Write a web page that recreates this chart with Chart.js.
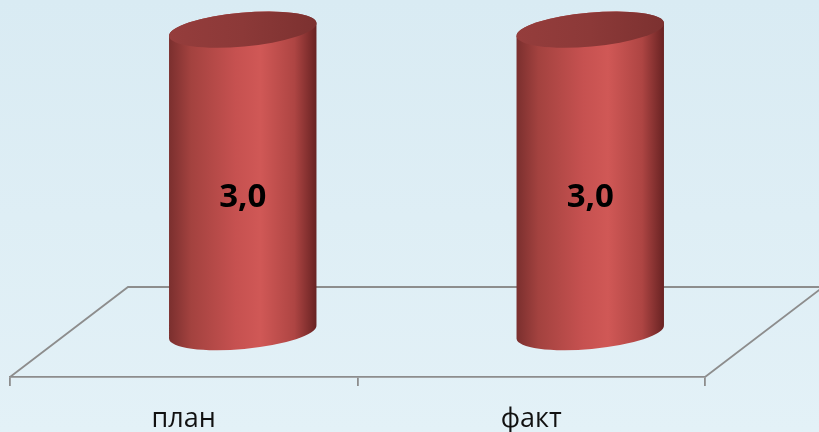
<!DOCTYPE html>
<html>
<head>
<meta charset="utf-8">
<script src="https://cdn.jsdelivr.net/npm/chart.js@4/dist/chart.umd.min.js"></script>
<style>
  html, body { margin: 0; padding: 0; }
  body { width: 819px; height: 432px; overflow: hidden;
         background: linear-gradient(to bottom, #d9ebf3 0%, #e3f1f7 100%); }
  #wrap { position: relative; width: 819px; height: 432px; }
</style>
</head>
<body>
<div id="wrap"><canvas id="myChart"></canvas></div>
<script>
// chart data
const categories = ['план', 'факт'];
const values = [3.0, 3.0];
const yMin = 0;
const yMax = 3.7;

// 3d look: floor depth and cylinder drawing
const depthX = 118;
const depthY = -90;
const lineColor = '#8d8d8d';

const cylinders = {
    id: 'cylinders',
    beforeDatasetsDraw(chart) {
        const ctx = chart.ctx;
        const area = chart.chartArea;
        ctx.save();
        ctx.strokeStyle = lineColor;
        ctx.lineWidth = 1.8;
        ctx.beginPath();
        ctx.moveTo(area.left, area.bottom);
        ctx.lineTo(area.left + depthX, area.bottom + depthY);
        ctx.lineTo(area.right + depthX, area.bottom + depthY);
        ctx.lineTo(area.right, area.bottom);
        ctx.stroke();
        ctx.restore();
    },
    afterDatasetsDraw(chart) {
        const ctx = chart.ctx;
        const meta = chart.getDatasetMeta(0);
        const yScale = chart.scales.y;
        meta.data.forEach((bar, i) => {
            const p = bar.getProps(['x', 'y', 'base', 'width'], true);
            const cx = p.x + depthX / 2;
            const topY = p.y + depthY / 2;
            const botY = p.base + depthY / 2;
            const rx = p.width / 2;
            const ry = 17;
            const rot = -0.09;

            ctx.save();
            const g = ctx.createLinearGradient(cx - rx, 0, cx + rx, 0);
            g.addColorStop(0, '#7a2f2e');
            g.addColorStop(0.15, '#a3423f');
            g.addColorStop(0.45, '#c65150');
            g.addColorStop(0.62, '#d05856');
            g.addColorStop(0.85, '#ae4543');
            g.addColorStop(1, '#672222');
            ctx.fillStyle = g;
            ctx.beginPath();
            ctx.ellipse(cx, botY, rx, ry, rot, 0, Math.PI);
            ctx.lineTo(cx - rx * Math.cos(rot), topY - rx * Math.sin(rot));
            ctx.ellipse(cx, topY, rx, ry, rot, Math.PI, Math.PI * 2);
            ctx.closePath();
            ctx.fill();

            // top cap
            const cg = ctx.createLinearGradient(cx - rx, 0, cx + rx, 0);
            cg.addColorStop(0, '#953d3c');
            cg.addColorStop(0.5, '#8c3938');
            cg.addColorStop(1, '#7c3130');
            ctx.fillStyle = cg;
            ctx.beginPath();
            ctx.ellipse(cx, topY, rx, ry, rot, 0, Math.PI * 2);
            ctx.fill();

            // value label
            ctx.fillStyle = '#000';
            ctx.font = 'bold 33px "Open Sans"';
            ctx.textAlign = 'center';
            ctx.textBaseline = 'middle';
            const ly = yScale.getPixelForValue(values[i] / 2) + depthY / 2 + 17;
            ctx.fillText(values[i].toFixed(1).replace('.', ','), cx, ly);
            ctx.restore();
        });
    }
};

new Chart(document.getElementById('myChart'), {
    type: 'bar',
    data: {
        labels: categories,
        datasets: [{
            data: values,
            backgroundColor: 'rgba(0,0,0,0)',
            borderWidth: 0,
            categoryPercentage: 1,
            barPercentage: 0.426
        }]
    },
    options: {
        responsive: true,
        maintainAspectRatio: false,
        animation: false,
        events: [],
        layout: { padding: { left: 10, right: 114, top: 4, bottom: -21 } },
        plugins: { legend: { display: false }, tooltip: { enabled: false } },
        scales: {
            x: {
                grid: {
                    offset: true,
                    drawOnChartArea: false,
                    drawTicks: true,
                    tickLength: 9,
                    color: lineColor,
                    lineWidth: 1.8
                },
                border: { display: true, color: lineColor, width: 1.8 },
                ticks: {
                    color: '#111',
                    padding: 20,
                    font: { family: 'Open Sans', size: 27, lineHeight: 1 }
                }
            },
            y: {
                display: false,
                min: yMin,
                max: yMax
            }
        }
    },
    plugins: [cylinders]
});
</script>
</body>
</html>
